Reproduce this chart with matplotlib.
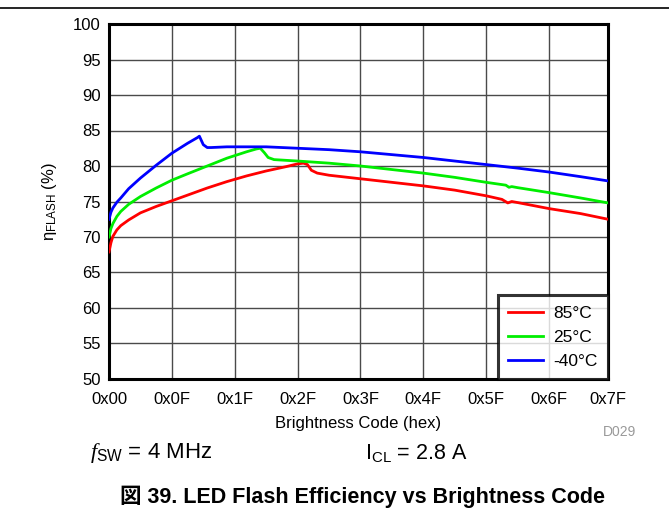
import matplotlib
matplotlib.use("Agg")
import matplotlib.pyplot as plt
from matplotlib.lines import Line2D

plt.rcParams['font.family'] = ['Liberation Sans', 'Noto Sans CJK JP', 'DejaVu Sans']
plt.rcParams['mathtext.fontset'] = 'custom'
plt.rcParams['mathtext.rm'] = 'Liberation Sans'
plt.rcParams['mathtext.it'] = 'Liberation Serif:italic'

# ---- data ----
red_x = [0, 0.5, 1, 2, 3, 5, 8, 12, 16, 20, 25, 30, 35, 40, 45, 48, 49.5, 50.5, 51.5, 53, 56,
         64, 72, 80, 88, 96, 100, 101.5, 102.5, 104, 112, 120, 127]
red_y = [67.9, 69.2, 70.1, 71.0, 71.6, 72.4, 73.4, 74.3, 75.1, 75.9, 76.9, 77.8, 78.6, 79.3, 79.9,
         80.3, 80.4, 80.2, 79.4, 79.0, 78.7, 78.2, 77.7, 77.2, 76.6, 75.8, 75.3, 74.8, 75.0, 74.85,
         74.0, 73.3, 72.5]

green_x = [0, 0.5, 1, 2, 3, 5, 8, 12, 16, 20, 25, 30, 35, 37.5, 38.5, 39.5, 40.5, 42, 48, 56,
           64, 72, 80, 88, 96, 101, 101.8, 102.5, 104, 112, 120, 127]
green_y = [70.0, 71.2, 71.9, 72.9, 73.6, 74.6, 75.7, 76.9, 78.0, 78.9, 80.0, 81.1, 82.0, 82.4,
           82.5, 81.9, 81.2, 80.9, 80.7, 80.4, 80.0, 79.5, 79.0, 78.4, 77.7, 77.3, 77.0, 77.1,
           76.95, 76.25, 75.5, 74.8]

blue_x = [0, 0.5, 1, 2, 3, 5, 8, 12, 16, 20, 22.5, 23, 24, 25, 26, 30, 40, 48, 56, 64, 72, 80,
          88, 96, 104, 112, 120, 127]
blue_y = [72.5, 73.5, 74.1, 74.9, 75.5, 76.8, 78.3, 80.1, 81.8, 83.2, 84.0, 84.2, 83.0, 82.6,
          82.6, 82.7, 82.7, 82.5, 82.3, 82.0, 81.6, 81.2, 80.7, 80.2, 79.7, 79.15, 78.5, 77.9]

series_labels = ['85°C', '25°C', '-40°C']
series_colors = ['#ff0000', '#00ee00', '#0000ff']

x_ticks = [0, 16, 32, 48, 64, 80, 96, 112, 127]
x_tick_labels = ['0x00', '0x0F', '0x1F', '0x2F', '0x3F', '0x4F', '0x5F', '0x6F', '0x7F']
y_ticks = [50, 55, 60, 65, 70, 75, 80, 85, 90, 95, 100]

# ---- figure ----
fig = plt.figure(figsize=(6.69, 5.16), dpi=100)
ax = fig.add_axes([109 / 669, 1 - 379 / 516, (608 - 109) / 669, (379 - 24) / 516])

for xs, ys, c in zip([red_x, green_x, blue_x], [red_y, green_y, blue_y], series_colors):
    ax.plot(xs, ys, color=c, lw=2.0, solid_joinstyle='round', zorder=3)

ax.set_xlim(0, 127)
ax.set_ylim(50, 100)
ax.set_xticks(x_ticks)
ax.set_xticklabels(x_tick_labels, fontsize=12)
ax.set_yticks(y_ticks)
ax.set_yticklabels([str(v) for v in y_ticks], fontsize=12)
ax.tick_params(axis='x', length=0, pad=9)
ax.tick_params(axis='y', length=0, pad=6)
ax.grid(True, color='#4a4a4a', lw=1.0)
for s in ax.spines.values():
    s.set_linewidth(2.2)
    s.set_color('black')

ax.set_xlabel('Brightness Code (hex)', fontsize=12, labelpad=7)
ax.set_ylabel('η$_{\\mathrm{FLASH}}$ (%)', fontsize=12, labelpad=10)

handles = [Line2D([], [], color=c, lw=2.0) for c in series_colors]
leg = ax.legend(handles, series_labels, loc='lower right', fontsize=12.5, frameon=True,
                fancybox=False, edgecolor='black', borderaxespad=0, handlelength=2.0,
                labelspacing=0.5, borderpad=0.6, handletextpad=0.6)
leg.get_frame().set_linewidth(2.2)

# top rule
fig.add_artist(Line2D([0, 1], [1 - 8 / 516, 1 - 8 / 516], color='black', lw=1.2))

fig.text(620 / 669, 1 - 432 / 516, 'D029', fontsize=10, color='#999999', ha='center', va='center')
fig.text(90 / 669, 1 - 453 / 516, r'$f_{\mathrm{SW}}$ = 4 MHz', fontsize=16, ha='left', va='center')
fig.text(365 / 669, 1 - 453 / 516, r'I$_{\mathrm{CL}}$ = 2.8 A', fontsize=15.5, ha='left', va='center')
fig.text(362 / 669, 1 - 497 / 516, '図 39. LED Flash Efficiency vs Brightness Code', fontsize=15.5,
         fontweight='bold', ha='center', va='center')

fig.savefig('out.png', dpi=100)
